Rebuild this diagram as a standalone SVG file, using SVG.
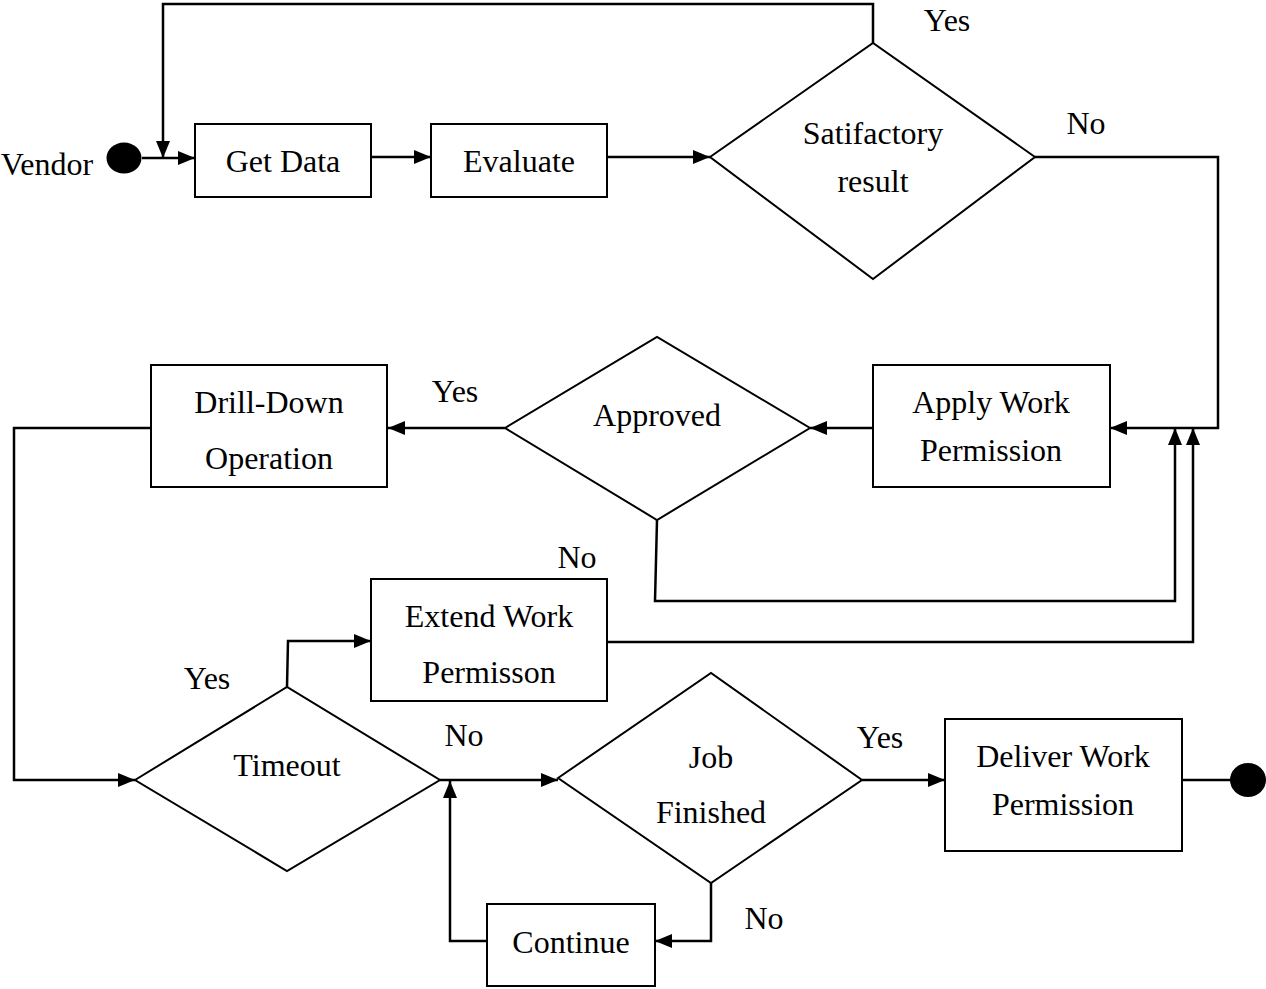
<svg xmlns="http://www.w3.org/2000/svg" width="1266" height="989" viewBox="0 0 1266 989">
<style>
.shape{fill:#fff;stroke:#000;stroke-width:2}
.conn{fill:none;stroke:#000;stroke-width:2.5}
.lbl{font-family:"Liberation Serif","Times New Roman",serif;font-size:32px;fill:#000;text-anchor:middle}
.dot{fill:#000}
</style>
<defs>
<marker id="arr" markerUnits="userSpaceOnUse" markerWidth="18" markerHeight="14" refX="17" refY="7" orient="auto">
<path d="M0,0 L17,7 L0,14 z" fill="#000"/>
</marker>
</defs>
<rect width="1266" height="989" fill="#fff"/>

<g id="connectors">
<path class="conn" d="M142,158 L195,158" marker-end="url(#arr)"/>
<path class="conn" d="M873,43 L873,4 L163,4 L163,158" marker-end="url(#arr)"/>
<path class="conn" d="M371,157 L431,157" marker-end="url(#arr)"/>
<path class="conn" d="M607,157 L710,157" marker-end="url(#arr)"/>
<path class="conn" d="M1035,157 L1218,157 L1218,428 L1110,428" marker-end="url(#arr)"/>
<path class="conn" d="M873,428 L810,428" marker-end="url(#arr)"/>
<path class="conn" d="M505,428 L388,428" marker-end="url(#arr)"/>
<path class="conn" d="M151,428 L14,428 L14,780 L135,780" marker-end="url(#arr)"/>
<path class="conn" d="M657,520 L655,601 L1175,601 L1175,428" marker-end="url(#arr)"/>
<path class="conn" d="M607,642 L1193,642 L1193,428" marker-end="url(#arr)"/>
<path class="conn" d="M287,687 L288,641 L371,641" marker-end="url(#arr)"/>
<path class="conn" d="M440,780 L558,780" marker-end="url(#arr)"/>
<path class="conn" d="M487,941 L450,941 L450,781" marker-end="url(#arr)"/>
<path class="conn" d="M711,883 L711,941 L655,941" marker-end="url(#arr)"/>
<path class="conn" d="M862,780 L945,780" marker-end="url(#arr)"/>
<path class="conn" d="M1182,780 L1232,780"/>
</g>

<g id="start">
<ellipse class="dot" cx="124" cy="158" rx="17.5" ry="15.5"/>
<text class="lbl" x="47" y="175">Vendor</text>
</g>

<g id="get-data">
<rect class="shape" x="195" y="124" width="176" height="73"/>
<text class="lbl" x="283" y="172">Get Data</text>
</g>

<g id="evaluate">
<rect class="shape" x="431" y="124" width="176" height="73"/>
<text class="lbl" x="519" y="172">Evaluate</text>
</g>

<g id="satisfactory">
<polygon class="shape" points="710,157 873,43 1035,157 873,279"/>
<text class="lbl" x="873" y="144">Satifactory</text>
<text class="lbl" x="873" y="192">result</text>
</g>

<g id="apply-work">
<rect class="shape" x="873" y="365" width="237" height="122"/>
<text class="lbl" x="991" y="413">Apply Work</text>
<text class="lbl" x="991" y="461">Permission</text>
</g>

<g id="approved">
<polygon class="shape" points="505,428 657,337 810,428 657,520"/>
<text class="lbl" x="657" y="426">Approved</text>
</g>

<g id="drill-down">
<rect class="shape" x="151" y="365" width="236" height="122"/>
<text class="lbl" x="269" y="413">Drill-Down</text>
<text class="lbl" x="269" y="469">Operation</text>
</g>

<g id="extend-work">
<rect class="shape" x="371" y="579" width="236" height="122"/>
<text class="lbl" x="489" y="627">Extend Work</text>
<text class="lbl" x="489" y="683">Permisson</text>
</g>

<g id="timeout">
<polygon class="shape" points="135,780 287,687 440,780 287,871"/>
<text class="lbl" x="287" y="776">Timeout</text>
</g>

<g id="job-finished">
<polygon class="shape" points="558,778 711,673 862,780 711,883"/>
<text class="lbl" x="711" y="768">Job</text>
<text class="lbl" x="711" y="823">Finished</text>
</g>

<g id="deliver">
<rect class="shape" x="945" y="719" width="237" height="132"/>
<text class="lbl" x="1063" y="767">Deliver Work</text>
<text class="lbl" x="1063" y="815">Permission</text>
</g>

<g id="end">
<ellipse class="dot" cx="1248" cy="780" rx="18" ry="17"/>
</g>

<g id="continue">
<rect class="shape" x="487" y="904" width="168" height="82"/>
<text class="lbl" x="571" y="953">Continue</text>
</g>

<g id="labels">
<text class="lbl" x="947" y="31">Yes</text>
<text class="lbl" x="1086" y="134">No</text>
<text class="lbl" x="455" y="402">Yes</text>
<text class="lbl" x="577" y="568">No</text>
<text class="lbl" x="207" y="689">Yes</text>
<text class="lbl" x="464" y="746">No</text>
<text class="lbl" x="880" y="748">Yes</text>
<text class="lbl" x="764" y="929">No</text>
</g>
</svg>
